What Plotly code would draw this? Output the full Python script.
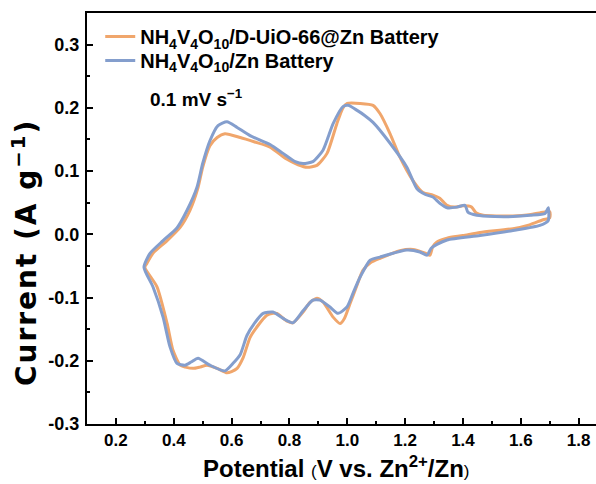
import plotly.graph_objects as go

# NH4V4O10/D-UiO-66@Zn Battery (orange)
x_d = [0.300, 0.307, 0.328, 0.377, 0.422, 0.456, 0.484, 0.500, 0.525, 0.550, 0.577, 0.630, 0.680, 0.733,
       0.790, 0.830, 0.861, 0.895, 0.930, 0.964, 0.985, 1.000, 1.044, 1.089, 1.113, 1.148, 1.182, 1.227,
       1.262, 1.296, 1.320, 1.345, 1.370, 1.400, 1.430, 1.445, 1.470, 1.520, 1.573, 1.630, 1.677, 1.700,
       1.700, 1.677, 1.630, 1.573, 1.459, 1.400, 1.345, 1.310, 1.295, 1.286, 1.270, 1.227, 1.182, 1.113,
       1.080, 1.054, 1.030, 1.010, 0.990, 0.975, 0.951, 0.916, 0.895, 0.870, 0.847, 0.812, 0.790, 0.757,
       0.743, 0.722, 0.690, 0.664, 0.640, 0.619, 0.600, 0.584, 0.550, 0.515, 0.490, 0.467, 0.440, 0.422,
       0.397, 0.377, 0.342, 0.300]
y_d = [-0.052, -0.046, -0.030, -0.010, 0.011, 0.038, 0.074, 0.106, 0.140, 0.153, 0.159, 0.153, 0.146, 0.138,
       0.119, 0.110, 0.106, 0.109, 0.128, 0.175, 0.200, 0.207, 0.207, 0.204, 0.191, 0.159, 0.122, 0.085,
       0.066, 0.062, 0.057, 0.046, 0.043, 0.045, 0.043, 0.034, 0.030, 0.029, 0.029, 0.031, 0.035, 0.036,
       0.026, 0.023, 0.015, 0.009, 0.003, -0.002, -0.006, -0.012, -0.020, -0.033, -0.030, -0.024, -0.026, -0.038,
       -0.045, -0.057, -0.085, -0.109, -0.133, -0.141, -0.131, -0.107, -0.101, -0.108, -0.123, -0.140, -0.137, -0.125,
       -0.125, -0.128, -0.145, -0.163, -0.195, -0.212, -0.217, -0.219, -0.212, -0.207, -0.210, -0.212, -0.210, -0.207,
       -0.183, -0.141, -0.083, -0.052]

# NH4V4O10/Zn Battery (blue)
x_b = [0.297, 0.318, 0.363, 0.411, 0.446, 0.480, 0.500, 0.525, 0.553, 0.584, 0.619, 0.664, 0.733, 0.778,
       0.820, 0.847, 0.881, 0.916, 0.951, 0.985, 1.003, 1.034, 1.060, 1.089, 1.148, 1.206, 1.241, 1.270,
       1.296, 1.320, 1.345, 1.380, 1.407, 1.417, 1.448, 1.510, 1.573, 1.632, 1.684, 1.695,
       1.695, 1.666, 1.573, 1.459, 1.345, 1.310, 1.290, 1.276, 1.251, 1.206, 1.113, 1.079, 1.044, 1.020,
       0.999, 0.968, 0.940, 0.906, 0.881, 0.847, 0.812, 0.778, 0.743, 0.709, 0.680, 0.653, 0.630, 0.605,
       0.577, 0.525, 0.484, 0.460, 0.439, 0.411, 0.387, 0.363, 0.328, 0.297]
y_b = [-0.052, -0.030, -0.010, 0.010, 0.038, 0.074, 0.112, 0.148, 0.172, 0.178, 0.169, 0.156, 0.142, 0.128,
       0.115, 0.112, 0.115, 0.133, 0.175, 0.202, 0.204, 0.196, 0.188, 0.177, 0.144, 0.106, 0.072, 0.063,
       0.059, 0.049, 0.042, 0.043, 0.046, 0.035, 0.030, 0.028, 0.028, 0.030, 0.033, 0.042,
       0.022, 0.014, 0.006, -0.002, -0.009, -0.016, -0.022, -0.033, -0.028, -0.025, -0.036, -0.041, -0.068, -0.093,
       -0.115, -0.125, -0.115, -0.104, -0.104, -0.121, -0.140, -0.133, -0.123, -0.125, -0.140, -0.160, -0.190, -0.204,
       -0.216, -0.207, -0.196, -0.202, -0.207, -0.204, -0.178, -0.131, -0.083, -0.052]

x_ticks = [0.2, 0.4, 0.6, 0.8, 1.0, 1.2, 1.4, 1.6, 1.8]
y_ticks = [-0.3, -0.2, -0.1, 0.0, 0.1, 0.2, 0.3]

ORANGE = "#F0A66C"
BLUE = "#849ECD"
FONT = "Liberation Sans"
TFONT = "DejaVu Sans"

fig = go.Figure()
fig.add_trace(go.Scatter(x=x_d, y=y_d, mode="lines", legend="legend",
                         name="<b>NH<sub>4</sub>V<sub>4</sub>O<sub>10</sub>/D-UiO-66@Zn Battery</b>",
                         line=dict(color=ORANGE, width=3, shape="spline", smoothing=0.6)))
fig.add_trace(go.Scatter(x=x_b, y=y_b, mode="lines", legend="legend2",
                         name="<b>NH<sub>4</sub>V<sub>4</sub>O<sub>10</sub>/Zn Battery</b>",
                         line=dict(color=BLUE, width=3, shape="spline", smoothing=0.6)))

axis_common = dict(showline=True, linecolor="black", linewidth=2, mirror=True,
                   ticks="inside", ticklen=6, tickwidth=2, tickcolor="black",
                   showgrid=False, zeroline=False, automargin=False)

fig.update_xaxes(range=[0.1, 1.86], tickvals=x_ticks, ticktext=[f"{v:.1f}" for v in x_ticks],
                 tickfont=dict(family=FONT, size=17, color="black", weight="bold"),
                 minor=dict(ticks="inside", ticklen=3, tickwidth=2, tickcolor="black", dtick=0.1, tick0=0.1),
                 **axis_common)
fig.update_yaxes(range=[-0.3, 0.35], tickvals=y_ticks, ticktext=[f"{v:.1f}" for v in y_ticks],
                 tickfont=dict(family=FONT, size=18, color="black", weight="bold"), ticklabelstandoff=2,
                 minor=dict(ticks="inside", ticklen=3, tickwidth=2, tickcolor="black", dtick=0.05, tick0=0.05),
                 **axis_common)

# axis titles
fig.add_annotation(x=0.491, y=-0.105, xref="paper", yref="paper", xanchor="center", yanchor="middle",
                   text="<b>Potential</b> <span style='font-size:17px'>(</span><b>V vs. Zn<sup>2+</sup>/Zn</b><span style='font-size:17px'>)</span>",
                   showarrow=False, font=dict(family=FONT, size=24, color="black"))
fig.add_annotation(x=-0.122, y=0.418, xref="paper", yref="paper", xanchor="center", yanchor="middle",
                   text="<span style='letter-spacing:2px'><b>Current (A g<sup>\u22121</sup>)</b></span>", textangle=-90,
                   showarrow=False, font=dict(family=TFONT, size=28, color="black"))

fig.add_annotation(x=0.311, y=0.215, xref="x", yref="y", xanchor="left", yanchor="middle",
                   text="<b>0.1 mV s<sup>\u22121</sup></b>", showarrow=False,
                   font=dict(family=FONT, size=19, color="black"))

leg_common = dict(xanchor="left", yanchor="top", bgcolor="rgba(0,0,0,0)", borderwidth=0,
                  font=dict(family=FONT, size=20, color="black"), itemwidth=30)

fig.update_layout(
    width=596, height=484,
    margin=dict(l=87, r=0, t=13, b=60),
    plot_bgcolor="white", paper_bgcolor="white",
    showlegend=True,
    legend=dict(x=0.026, y=0.99, **leg_common),
    legend2=dict(x=0.026, y=0.932, **leg_common),
)

fig.write_html("out.html", config={"displayModeBar": False},
               post_script="document.body.style.margin='0';")
